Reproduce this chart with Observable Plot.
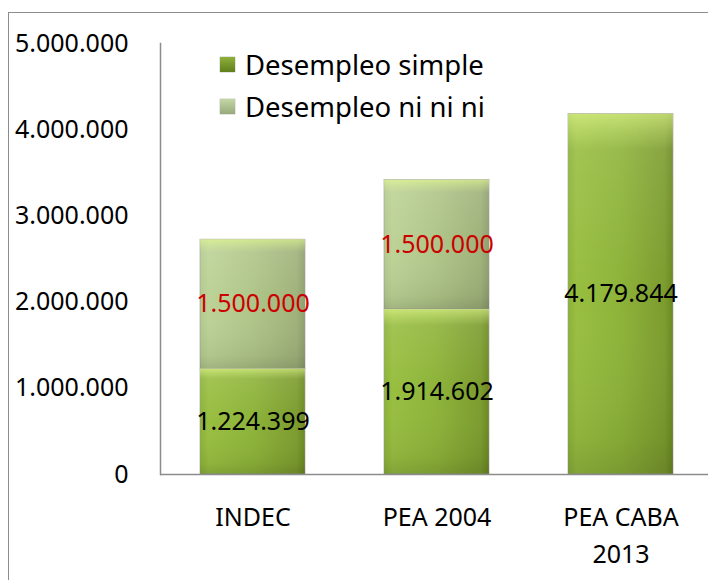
<!DOCTYPE html>
<html>
<head>
<meta charset="utf-8">
<script src="https://cdn.jsdelivr.net/npm/d3@7"></script>
<script src="https://cdn.jsdelivr.net/npm/@observablehq/plot@0.6"></script>
<style>
  html, body { margin: 0; padding: 0; background: #fff; overflow: hidden; }
  #wrap { position: relative; width: 708px; height: 580px; overflow: hidden; font-family: "Noto Sans", sans-serif; }
  #frame { position: absolute; left: 8px; top: 12px; width: 720px; height: 600px; border: 1.5px solid #8c8c8c; box-sizing: border-box; }
  #chart { position: absolute; left: 0; top: 0; }
  #legend { position: absolute; left: 220px; top: 43px; font-size: 27.5px; color: #000; }
  .item { display: flex; align-items: center; height: 42px; }
  .sw { width: 15px; height: 15px; margin-right: 10px; box-shadow: 0 0 1px #666; }
</style>
</head>
<body>
<div id="wrap">
  <div id="frame"></div>
  <div id="chart"></div>
  <div id="legend"></div>
</div>
<script>
const categories = ["INDEC", "PEA 2004", "PEA CABA 2013"];
const series = ["Desempleo simple", "Desempleo ni ni ni"];
const simple = [1224399, 1914602, 4179844];
const niNiNi = [1500000, 1500000, 0];
const yTicks = [0, 1000000, 2000000, 3000000, 4000000, 5000000];

const loc = d3.formatLocale({decimal: ",", thousands: ".", grouping: [3], currency: ["$", ""]});
const fmt = loc.format(",d");

const rows = [];
categories.forEach((c, i) => {
  rows.push({cat: c, series: series[0], y1: 0, y2: simple[i], value: simple[i]});
  if (niNiNi[i] > 0) rows.push({cat: c, series: series[1], y1: simple[i], y2: simple[i] + niNiNi[i], value: niNiNi[i]});
});

const fills = {"Desempleo simple": "url(#gSimple)", "Desempleo ni ni ni": "url(#gNi)"};
const labelColors = {"Desempleo simple": "#000000", "Desempleo ni ni ni": "#cc0000"};

const chart = Plot.plot({
  width: 708,
  height: 580,
  marginLeft: 160,
  marginRight: 0,
  marginTop: 43,
  marginBottom: 106,
  style: {fontFamily: "Noto Sans, sans-serif", background: "transparent"},
  x: {domain: categories, range: [160, 713.5], paddingInner: 0.43, paddingOuter: 0.215, label: null},
  y: {domain: [0, 5000000], label: null},
  marks: [
    Plot.barY(rows, {x: "cat", y1: "y1", y2: "y2", fill: d => fills[d.series], stroke: "#9a9a9a", strokeWidth: 0.6}),
    Plot.barY(rows, {x: "cat", y1: "y1", y2: "y2", fill: "url(#gShade)"}),
    Plot.barY(rows, {x: "cat", y1: "y1", y2: "y2", fill: "url(#gTop)"}),
    Plot.ruleY([0], {stroke: "#8c8c8c", strokeWidth: 1.5}),
    Plot.frame({anchor: "left", stroke: "#8c8c8c", strokeWidth: 1.5}),
    Plot.axisY({ticks: yTicks, tickSize: 0, tickPadding: 32, tickFormat: d => fmt(d), fontSize: 25, fill: "#000"}),
    Plot.axisX({tickSize: 0, tickPadding: 25, fontSize: 25, fill: "#000", lineHeight: 1.48,
      tickFormat: d => d === "PEA CABA 2013" ? "PEA CABA\n2013" : d}),
    Plot.text(rows, {x: "cat", y: d => (d.y1 + d.y2) / 2, text: d => fmt(d.value), fill: d => labelColors[d.series], fontSize: 25})
  ]
});

chart.insertAdjacentHTML("afterbegin", `
<defs>
  <linearGradient id="gSimple" x1="0" y1="0" x2="1" y2="0">
    <stop offset="0" stop-color="#8ab236"/>
    <stop offset="0.08" stop-color="#98be40"/>
    <stop offset="0.5" stop-color="#8db339"/>
    <stop offset="0.92" stop-color="#7c9c2e"/>
    <stop offset="1" stop-color="#6a8821"/>
  </linearGradient>
  <linearGradient id="gNi" x1="0" y1="0" x2="1" y2="0">
    <stop offset="0" stop-color="#b2c88c"/>
    <stop offset="0.08" stop-color="#bcd296"/>
    <stop offset="0.5" stop-color="#afc588"/>
    <stop offset="0.92" stop-color="#9fb27a"/>
    <stop offset="1" stop-color="#8e9f6e"/>
  </linearGradient>
  <linearGradient id="gShade" x1="0" y1="0" x2="0" y2="1">
    <stop offset="0" stop-color="#ffffff" stop-opacity="0.12"/>
    <stop offset="0.5" stop-color="#ffffff" stop-opacity="0"/>
    <stop offset="0.9" stop-color="#000000" stop-opacity="0.06"/>
    <stop offset="1" stop-color="#000000" stop-opacity="0.14"/>
  </linearGradient>
  <linearGradient id="gTop" x1="0" y1="0" x2="0" y2="1">
    <stop offset="0" stop-color="#e8ff90" stop-opacity="0.55"/>
    <stop offset="0.05" stop-color="#e8ff90" stop-opacity="0.25"/>
    <stop offset="0.1" stop-color="#e8ff90" stop-opacity="0"/>
    <stop offset="1" stop-color="#e8ff90" stop-opacity="0"/>
  </linearGradient>
</defs>`);

document.getElementById("chart").appendChild(chart);

const legendColors = ["linear-gradient(180deg,#8fb03a,#5f7f1a)", "linear-gradient(180deg,#c5d6a5,#98a97c)"];
const legend = document.getElementById("legend");
series.forEach((s, i) => {
  const it = document.createElement("div");
  it.className = "item";
  it.innerHTML = `<span class="sw" style="background:${legendColors[i]}"></span><span>${s}</span>`;
  legend.appendChild(it);
});
</script>
</body>
</html>
